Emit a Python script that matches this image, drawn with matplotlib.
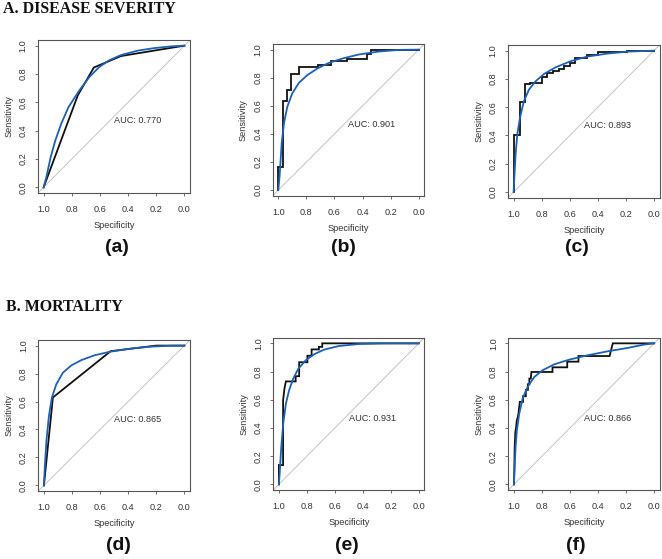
import matplotlib
matplotlib.use("Agg")
import matplotlib.pyplot as plt

# ---------------- data ----------------
panel_labels = ["(a)", "(b)", "(c)", "(d)", "(e)", "(f)"]
auc_texts = ["AUC: 0.770", "AUC: 0.901", "AUC: 0.893", "AUC: 0.865", "AUC: 0.931", "AUC: 0.866"]
section_titles = ["A. DISEASE SEVERITY", "B. MORTALITY"]
tick_values = [0.0, 0.2, 0.4, 0.6, 0.8, 1.0]
tick_labels = ["0.0", "0.2", "0.4", "0.6", "0.8", "1.0"]

# empirical ROC (black) : specificity / sensitivity
emp_spec_a = [1.0, 0.757, 0.643, 0.449, 0.0]
emp_sens_a = [0.0, 0.650, 0.846, 0.927, 1.0]

emp_spec_b = [1.0, 1.0, 0.968, 0.968, 0.941, 0.941, 0.913, 0.913, 0.855, 0.855, 0.716, 0.716,
              0.622, 0.622, 0.511, 0.511, 0.369, 0.369, 0.338, 0.338, 0.0]
emp_sens_b = [0.0, 0.165, 0.165, 0.637, 0.637, 0.716, 0.716, 0.828, 0.828, 0.877, 0.877, 0.889,
              0.889, 0.920, 0.920, 0.936, 0.936, 0.967, 0.967, 1.0, 1.0]

emp_spec_c = [1.0, 1.0, 0.958, 0.958, 0.922, 0.922, 0.880, 0.880, 0.800, 0.800, 0.760, 0.760,
              0.720, 0.720, 0.680, 0.680, 0.640, 0.640, 0.600, 0.600, 0.560, 0.560, 0.478, 0.478,
              0.400, 0.400, 0.193, 0.193, 0.0]
emp_sens_c = [0.0, 0.400, 0.400, 0.635, 0.635, 0.762, 0.762, 0.772, 0.772, 0.815, 0.815, 0.845,
              0.845, 0.858, 0.858, 0.872, 0.872, 0.890, 0.890, 0.910, 0.910, 0.948, 0.948, 0.968,
              0.968, 0.988, 0.988, 1.0, 1.0]

emp_spec_d = [1.0, 0.936, 0.525, 0.200, 0.0]
emp_sens_d = [0.0, 0.629, 0.960, 1.0, 1.0]

emp_spec_e = [1.0, 1.0, 0.970, 0.970, 0.960, 0.950, 0.880, 0.880, 0.855, 0.855, 0.796, 0.796,
              0.766, 0.766, 0.714, 0.714, 0.690, 0.690, 0.0]
emp_sens_e = [0.0, 0.137, 0.137, 0.596, 0.680, 0.730, 0.730, 0.767, 0.767, 0.866, 0.866, 0.912,
              0.912, 0.957, 0.957, 0.975, 0.975, 1.0, 1.0]

emp_spec_f = [1.0, 0.997, 0.995, 0.990, 0.985, 0.980, 0.972, 0.968, 0.958, 0.935, 0.935, 0.915,
              0.915, 0.900, 0.900, 0.890, 0.890, 0.880, 0.875, 0.725, 0.725, 0.620, 0.620, 0.540,
              0.540, 0.318, 0.295, 0.0]
emp_sens_f = [0.0, 0.100, 0.250, 0.370, 0.400, 0.450, 0.480, 0.500, 0.585, 0.585, 0.625, 0.625,
              0.670, 0.670, 0.710, 0.710, 0.750, 0.750, 0.797, 0.797, 0.830, 0.830, 0.870, 0.870,
              0.910, 0.910, 1.0, 1.0]

# smoothed ROC (blue)
sm_spec_a = [1.0, 0.981, 0.950, 0.917, 0.875, 0.823, 0.745, 0.674, 0.603, 0.532, 0.449, 0.331, 0.213, 0.095, 0.0]
sm_sens_a = [0.0, 0.071, 0.213, 0.331, 0.449, 0.567, 0.686, 0.780, 0.851, 0.898, 0.934, 0.965, 0.983, 0.995, 1.0]

sm_spec_b = [1.0, 0.991, 0.976, 0.960, 0.936, 0.901, 0.853, 0.794, 0.723, 0.641, 0.546, 0.428, 0.286, 0.144, 0.0]
sm_sens_b = [0.0, 0.097, 0.333, 0.475, 0.593, 0.688, 0.764, 0.818, 0.865, 0.905, 0.936, 0.965, 0.986, 0.998, 1.0]

sm_spec_c = [1.0, 0.995, 0.986, 0.974, 0.955, 0.927, 0.891, 0.844, 0.784, 0.701, 0.595, 0.476, 0.334, 0.192, 0.0]
sm_sens_c = [0.0, 0.099, 0.264, 0.406, 0.524, 0.642, 0.724, 0.783, 0.835, 0.882, 0.925, 0.958, 0.979, 0.993, 1.0]

sm_spec_d = [1.0, 0.993, 0.981, 0.964, 0.943, 0.912, 0.865, 0.805, 0.734, 0.639, 0.525, 0.378, 0.235, 0.093, 0.0]
sm_sens_d = [0.0, 0.144, 0.333, 0.499, 0.629, 0.723, 0.806, 0.858, 0.896, 0.931, 0.957, 0.979, 0.993, 0.999, 1.0]

sm_spec_e = [1.0, 0.993, 0.983, 0.969, 0.950, 0.927, 0.898, 0.861, 0.809, 0.749, 0.678, 0.572, 0.430, 0.241, 0.0]
sm_sens_e = [0.0, 0.099, 0.265, 0.430, 0.572, 0.667, 0.749, 0.820, 0.879, 0.922, 0.955, 0.981, 0.995, 1.0, 1.0]

sm_spec_f = [1.0, 0.995, 0.988, 0.979, 0.962, 0.938, 0.903, 0.855, 0.796, 0.713, 0.607, 0.476, 0.334, 0.192, 0.073, 0.0]
sm_sens_f = [0.0, 0.123, 0.265, 0.383, 0.501, 0.608, 0.690, 0.761, 0.809, 0.851, 0.884, 0.915, 0.943, 0.967, 0.991, 1.0]

emp_spec = [emp_spec_a, emp_spec_b, emp_spec_c, emp_spec_d, emp_spec_e, emp_spec_f]
emp_sens = [emp_sens_a, emp_sens_b, emp_sens_c, emp_sens_d, emp_sens_e, emp_sens_f]
sm_spec = [sm_spec_a, sm_spec_b, sm_spec_c, sm_spec_d, sm_spec_e, sm_spec_f]
sm_sens = [sm_sens_a, sm_sens_b, sm_sens_c, sm_sens_d, sm_sens_e, sm_sens_f]

# ---------------- layout ----------------
W, H = 662, 559
fig = plt.figure(figsize=(W / 100, H / 100), dpi=100)
fig.patch.set_facecolor("white")

# box pixel extents (left, right, top, bottom)
boxes = [(38, 190, 40, 193), (272.7, 424.3, 44, 195.7), (508, 659.6, 45, 197.7),
         (38.3, 190, 340, 491), (273.3, 424.3, 337.7, 490), (508.3, 659.8, 337.7, 490)]
label_pos = [(117, 247), (343, 247), (577, 247), (118, 545), (347, 545), (576, 545)]

SANS = ["Liberation Sans", "DejaVu Sans"]
SERIF = ["Liberation Serif", "DejaVu Serif"]
BLUE = "#1c61b6"
TXT = "#333333"

for i in range(6):
    l, r, t, b = boxes[i]
    ax = fig.add_axes([l / W, 1 - b / H, (r - l) / W, (b - t) / H])
    ax.set_xlim(1.04, -0.04)
    ax.set_ylim(-0.04, 1.04)
    ax.plot([1.1, -0.1], [-0.1, 1.1], color="#c4c4c4", lw=0.7, zorder=1)
    ax.plot(emp_spec[i], emp_sens[i], color="#111111", lw=1.3, zorder=2,
            solid_joinstyle="miter")
    ax.plot(sm_spec[i], sm_sens[i], color=BLUE, lw=1.3, zorder=3)
    ax.text(0.5, 0.5, auc_texts[i], ha="left", va="top", fontsize=6.6,
            family=SANS, color=TXT)
    ax.set_xticks(tick_values)
    ax.set_xticklabels(tick_labels)
    ax.set_yticks(tick_values)
    ax.set_yticklabels(tick_labels, rotation=90, va="center")
    ax.tick_params(direction="out", length=2.4, width=0.6, colors="#555555",
                   labelcolor=TXT, labelsize=6.6)
    ax.tick_params(axis="x", pad=6.5)
    ax.tick_params(axis="y", pad=5)
    for lab in ax.get_xticklabels() + ax.get_yticklabels():
        lab.set_family(SANS)
    for s in ax.spines.values():
        s.set_color("#555555")
        s.set_linewidth(0.8)
    ax.set_xlabel("Specificity", fontsize=6.6, family=SANS, color=TXT, labelpad=5)
    ax.set_ylabel("Sensitivity", fontsize=6.6, family=SANS, color=TXT, labelpad=4)
    lx, ly = label_pos[i]
    fig.text(lx / W, 1 - ly / H, panel_labels[i], ha="center", va="center",
             fontsize=14, fontweight="bold", family=SANS, color="#111111")

fig.text(2.7 / W, 1 - 12.7 / H, section_titles[0], ha="left", va="baseline",
         fontsize=11.4, fontweight="bold", family=SERIF, color="#111111")
fig.text(6 / W, 1 - 310.7 / H, section_titles[1], ha="left", va="baseline",
         fontsize=11.4, fontweight="bold", family=SERIF, color="#111111")

fig.savefig("out.png", dpi=100, facecolor="white")
